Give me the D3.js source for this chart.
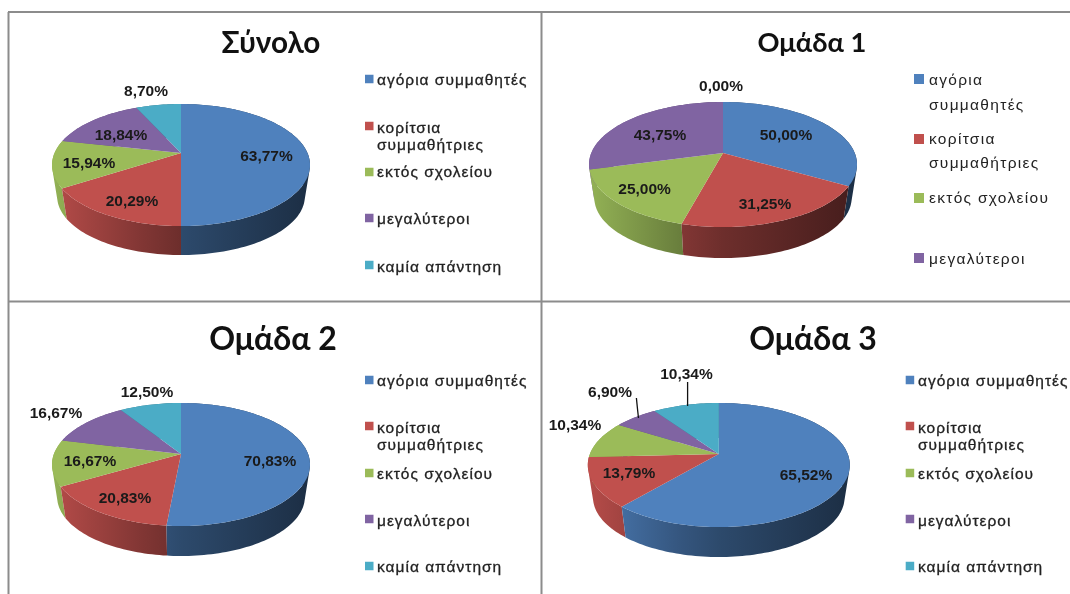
<!DOCTYPE html>
<html>
<head>
<meta charset="utf-8">
<style>
    html, body { margin: 0; padding: 0; background: #fff; }
    svg { display: block; }
    .title { font-family: Lato, "Liberation Sans", sans-serif; font-weight: bold; fill: #111; text-anchor: middle; }
    .pct { font-family: "Liberation Sans", sans-serif; font-weight: bold; font-size: 15.5px; fill: #1a1a1a; text-anchor: middle; }
    .leg { font-family: "Liberation Sans", sans-serif; font-size: 15.5px; fill: #222; }
</style>
<script src="https://cdn.jsdelivr.net/npm/d3@7/dist/d3.min.js"></script>
</head>
<body>
<div id="chart"></div>
<script>
// values as printed on the slices (they don't add up to 100, the pie normalises them)
var categories = ["αγόρια συμμαθητές", "κορίτσια συμμαθήτριες", "εκτός σχολείου", "μεγαλύτεροι", "καμία απάντηση"];
var titles     = ["Σύνολο", "Ομάδα 1", "Ομάδα 2", "Ομάδα 3"];
var valuesAll  = [63.77, 20.29, 15.94, 18.84, 8.70];
var valuesG1   = [50.00, 31.25, 25.00, 43.75, 0.00];
var valuesG2   = [70.83, 20.83, 16.67, 16.67, 12.50];
var valuesG3   = [65.52, 13.79, 10.34, 6.90, 10.34];
var colors     = ["#4f81bd", "#c0504d", "#9bbb59", "#8064a2", "#4bacc6"];

// layout only, one entry per panel
var panels = [
    {
        title: titles[0], values: valuesAll, titleX: 271, titleY: 53, titleSize: 29.7,
        cx: 181, cy: 153, rx: 129, up: 49, down: 73, wallBottom: 255,
        labels: [[266.5, 155], [132, 200], [89, 162], [121, 134], [146, 90]],
        swatchX: 365, swatchSize: 8.5, textX: 377, legSpacing: 1, legStroke: 0.3,
        swatchY: [79, 126, 172, 218, 265],
        textY: [[85], [133, 150], [177], [224], [272]],
        legendShown: 5
    },
    {
        title: titles[1], values: valuesG1, titleX: 812, titleY: 52, titleSize: 27.3,
        cx: 723, cy: 153, rx: 134, up: 51, down: 74, wallBottom: 258,
        labels: [[786, 134], [765, 203], [644.6, 188], [660, 134], [721, 85]],
        swatchX: 914, swatchSize: 10, textX: 929, legSpacing: 1.3, legStroke: 0,
        swatchY: [79, 139, 198, 258],
        textY: [[85, 110], [144, 168], [203], [264]],
        legendShown: 4
    },
    {
        title: titles[2], values: valuesG2, titleX: 273, titleY: 350, titleSize: 32,
        cx: 181, cy: 454, rx: 129, up: 51, down: 72, wallBottom: 556,
        labels: [[270, 460], [125, 497], [90, 460], [56, 412], [147, 391]],
        swatchX: 365, swatchSize: 8.5, textX: 377, legSpacing: 1, legStroke: 0.3,
        swatchY: [380, 426, 473, 519, 566],
        textY: [[386], [433, 450], [479], [526], [572]],
        legendShown: 5
    },
    {
        title: titles[3], values: valuesG3, titleX: 813, titleY: 350, titleSize: 32,
        cx: 718.8, cy: 454, rx: 131, up: 51, down: 73, wallBottom: 557,
        labels: [[806, 474], [629, 472], [575, 424], [610, 391], [686.5, 373]],
        leaders: [null, null, null, [[636.4, 398], [637.4, 408], [638.5, 418]], [[687.6, 382], [687.6, 406]]],
        swatchX: 905.7, swatchSize: 8.5, textX: 918, legSpacing: 1, legStroke: 0.3,
        swatchY: [380, 426, 473, 519, 566],
        textY: [[386], [433, 450], [479], [526], [572]],
        legendShown: 5
    }
];

var W = 1070, H = 594;
var WALL_SHRINK = 0.04;  // bottom rim is a bit smaller, looks like perspective
var STEP = Math.PI / 120;

var fmt = d3.formatLocale({ decimal: ",", thousands: ".", grouping: [3], currency: ["", ""] }).format(".2f");

var svg = d3.select("#chart").append("svg").attr("width", W).attr("height", H);
var defs = svg.append("defs");

// the source is a scaled up screenshot, so everything is a little soft
defs.append("filter").attr("id", "soft")
    .attr("color-interpolation-filters", "sRGB")
    .attr("filterUnits", "userSpaceOnUse")
    .attr("x", 0).attr("y", 0).attr("width", W).attr("height", H)
    .append("feGaussianBlur").attr("stdDeviation", 0.5);

var root = svg.append("g").attr("filter", "url(#soft)");
root.append("rect").attr("width", W).attr("height", H).attr("fill", "#fff");

// frame
var frame = root.append("g").attr("stroke", "#8c8c8c").attr("stroke-width", 2);
frame.append("line").attr("x1", 8).attr("x2", W).attr("y1", 12).attr("y2", 12);
frame.append("line").attr("x1", 8.5).attr("x2", 8.5).attr("y1", 12).attr("y2", H);
frame.append("line").attr("x1", 541.5).attr("x2", 541.5).attr("y1", 12).attr("y2", H);
frame.append("line").attr("x1", 8).attr("x2", W).attr("y1", 301.5).attr("y2", 301.5);

var pie = d3.pie().sort(null).value(function (d) { return d; });

function drawPanel(p, pi) {
    var g = root.append("g");

    /* perspective ellipse: the pie centre isn't the centre of the ellipse */
    var k = (p.down - p.up) / (p.down + p.up);
    var xScale = d3.scaleLinear().domain([-1, 1]).range([-p.rx * Math.sqrt(1 - k * k), p.rx * Math.sqrt(1 - k * k)]);
    var yScale = d3.scaleLinear().domain([-1, 1]).range([-p.down * (1 - k), p.down * (1 - k)]);
    var shrink = 1 - WALL_SHRINK;
    var drop = p.wallBottom - p.cy - p.down * shrink;

    function project(angle, level) {
        var u = Math.sin(angle), v = -Math.cos(angle), w = 1 - k * v;
        var s = level ? shrink : 1;
        return [
            p.cx + xScale(u / w) * s,
            p.cy + yScale(v / w) * s + (level ? drop : 0)
        ];
    }

    function samples(a0, a1) {
        var pts = d3.range(a0, a1, STEP);
        pts.push(a1);
        return pts;
    }

    // how far a slice is from the front of the pie, 0 if it holds the front
    function frontGap(d) {
        if (d.startAngle <= Math.PI && d.endAngle >= Math.PI) return 0;
        return Math.min(Math.abs(d.startAngle - Math.PI), Math.abs(d.endAngle - Math.PI));
    }

    var line = d3.line();
    var slices = pie(p.values).filter(function (d) { return d.value > 0; });

    // darker to the right, same ramp for all slices
    colors.forEach(function (c, i) {
        var grad = defs.append("linearGradient")
            .attr("id", "wall-" + pi + "-" + i)
            .attr("gradientUnits", "userSpaceOnUse")
            .attr("x1", p.cx - p.rx).attr("x2", p.cx + p.rx)
            .attr("y1", 0).attr("y2", 0);
        [[0, 0.95], [0.35, 0.67], [0.5, 0.57], [1, 0.36]].forEach(function (s) {
            var rgb = d3.rgb(c);
            grad.append("stop")
                .attr("offset", s[0])
                .attr("stop-color", d3.rgb(rgb.r * s[1], rgb.g * s[1], rgb.b * s[1]).formatHex());
        });
    });

    /* side wall: one path per slice, back slices first. every quad gets the same
       winding, otherwise the fold at the sides cancels out and leaves a hole */
    var walls = slices.slice().sort(function (a, b) { return frontGap(b) - frontGap(a); });
    g.append("g").selectAll("path").data(walls).enter().append("path")
        .attr("d", function (d) {
            var angles = samples(d.startAngle, d.endAngle);
            return d3.pairs(angles).map(function (a) {
                var quad = [project(a[0], 0), project(a[1], 0), project(a[1], 1), project(a[0], 1)];
                if (d3.polygonArea(quad) < 0) quad.reverse();
                return line(quad) + "Z";
            }).join("");
        })
        .attr("fill", function (d) { return "url(#wall-" + pi + "-" + d.index + ")"; });

    /* top face */
    g.append("g").selectAll("path").data(slices).enter().append("path")
        .attr("d", function (d) {
            var pts = samples(d.startAngle, d.endAngle).map(function (a) { return project(a, 0); });
            pts.unshift([p.cx, p.cy]);
            return line(pts) + "Z";
        })
        .attr("fill", function (d) { return colors[d.index]; });

    /* leader lines */
    if (p.leaders) {
        p.leaders.forEach(function (l) {
            if (!l) return;
            g.append("path")
                .attr("d", d3.line().curve(d3.curveMonotoneY)(l))
                .attr("fill", "none")
                .attr("stroke", "#111")
                .attr("stroke-width", 1.3);
        });
    }

    /* percentages */
    g.append("g").selectAll("text").data(p.values).enter().append("text")
        .attr("class", "pct")
        .attr("x", function (d, i) { return p.labels[i][0]; })
        .attr("y", function (d, i) { return p.labels[i][1] + 5.5; })
        .text(function (d) { return fmt(d) + "%"; });

    g.append("text")
        .attr("class", "title")
        .attr("x", p.titleX).attr("y", p.titleY)
        .style("font-size", p.titleSize + "px")
        .text(p.title);

    /* legend */
    var leg = g.append("g");
    categories.slice(0, p.legendShown).forEach(function (name, i) {
        leg.append("rect")
            .attr("x", p.swatchX)
            .attr("y", p.swatchY[i] - p.swatchSize / 2)
            .attr("width", p.swatchSize).attr("height", p.swatchSize)
            .attr("fill", colors[i]);
        var lines = p.textY[i].length > 1 ? name.split(" ") : [name];
        lines.forEach(function (t, j) {
            leg.append("text")
                .attr("class", "leg")
                .attr("x", p.textX).attr("y", p.textY[i][j])
                .style("letter-spacing", p.legSpacing + "px")
                .style("stroke", "#222")
                .style("stroke-width", p.legStroke)
                .text(t);
        });
    });
}

panels.forEach(drawPanel);
</script>
</body>
</html>
